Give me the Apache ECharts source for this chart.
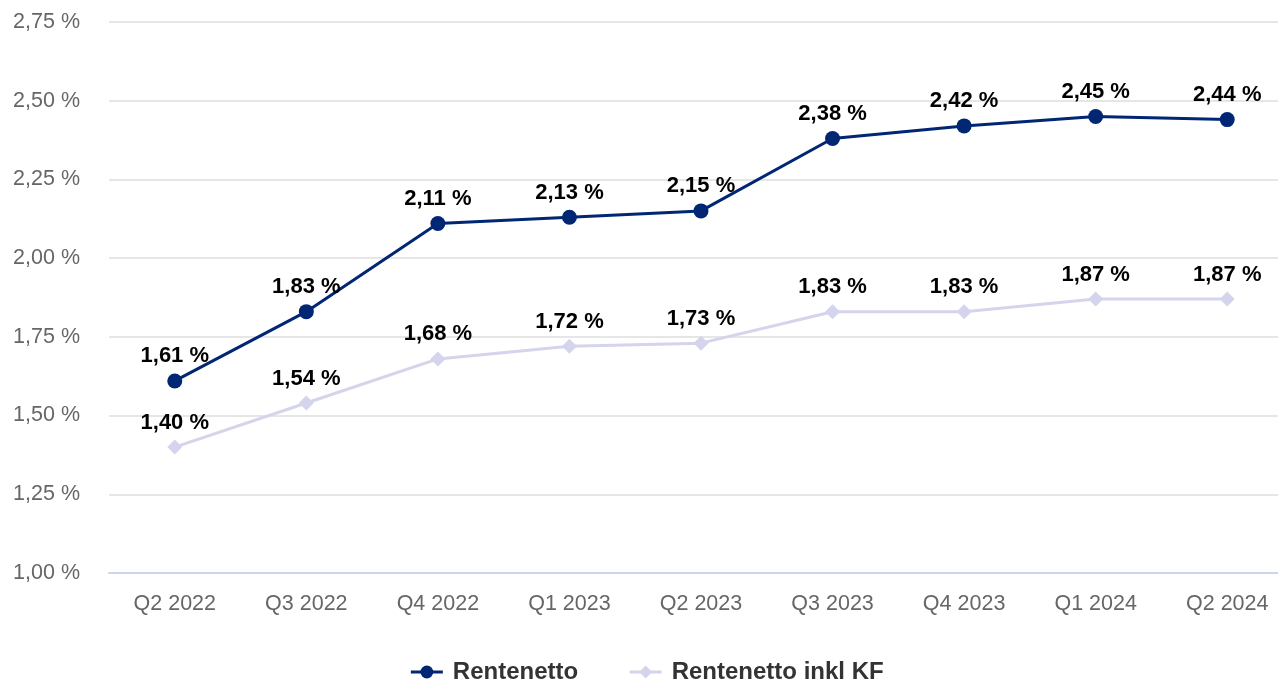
<!DOCTYPE html>
<html>
<head>
<meta charset="utf-8">
<script src="https://cdn.jsdelivr.net/npm/echarts@6/dist/echarts.min.js"></script>
<style>
  html, body { margin: 0; padding: 0; background: #ffffff; overflow: hidden; }
  #chart { width: 1293px; height: 682px; }
</style>
</head>
<body>
<div id="chart"></div>
<script>
// Quarterly net interest figures, in percent
const quarters = ['Q2 2022', 'Q3 2022', 'Q4 2022', 'Q1 2023', 'Q2 2023', 'Q3 2023', 'Q4 2023', 'Q1 2024', 'Q2 2024'];
const rentenetto = [1.61, 1.83, 2.11, 2.13, 2.15, 2.38, 2.42, 2.45, 2.44];
const rentenettoInklKF = [1.40, 1.54, 1.68, 1.72, 1.73, 1.83, 1.83, 1.87, 1.87];
const seriesNames = ['Rentenetto', 'Rentenetto inkl KF'];

const fmt = v => v.toFixed(2).replace('.', ',') + ' %';
const font = 'Liberation Sans, Arial, sans-serif';

const chart = echarts.init(document.getElementById('chart'));

const labelStyle = {
  show: true,
  position: 'top',
  distance: 6,
  fontFamily: font,
  fontSize: 22,
  fontWeight: 'bold',
  color: '#000000',
  formatter: p => fmt(p.value)
};

chart.setOption({
  animation: false,
  textStyle: { fontFamily: font },
  grid: { left: 109, top: 22, right: 0, bottom: 109, containLabel: false },
  legend: {
    top: 655,
    left: 'center',
    itemWidth: 32,
    itemHeight: 16,
    itemGap: 50,
    lineStyle: { width: 3 },
    textStyle: { fontFamily: font, fontSize: 24, fontWeight: 'bold', color: '#333333', padding: [0, 0, 0, 5] },
    data: seriesNames
  },
  xAxis: {
    type: 'category',
    data: quarters,
    boundaryGap: true,
    axisLine: { lineStyle: { color: '#ccd6eb', width: 2 } },
    axisTick: { show: false },
    axisLabel: { fontFamily: font, fontSize: 21.5, color: '#666666', margin: 20 }
  },
  yAxis: {
    type: 'value',
    min: 1,
    max: 2.75,
    interval: 0.25,
    axisLine: { show: false },
    axisTick: { show: false },
    axisLabel: { fontFamily: font, fontSize: 21.5, color: '#666666', margin: 29, formatter: v => fmt(v) },
    splitLine: { lineStyle: { color: '#e6e6e6', width: 2 } }
  },
  series: [
    {
      name: seriesNames[0],
      type: 'line',
      data: rentenetto,
      symbol: 'circle',
      symbolSize: 15,
      z: 3,
      lineStyle: { color: '#002674', width: 3 },
      itemStyle: { color: '#002674' },
      label: labelStyle
    },
    {
      name: seriesNames[1],
      type: 'line',
      data: rentenettoInklKF,
      symbol: 'diamond',
      symbolSize: 15,
      z: 2,
      lineStyle: { color: '#d4d4ec', width: 3 },
      itemStyle: { color: '#d4d4ec' },
      label: labelStyle
    }
  ]
});
</script>
</body>
</html>
